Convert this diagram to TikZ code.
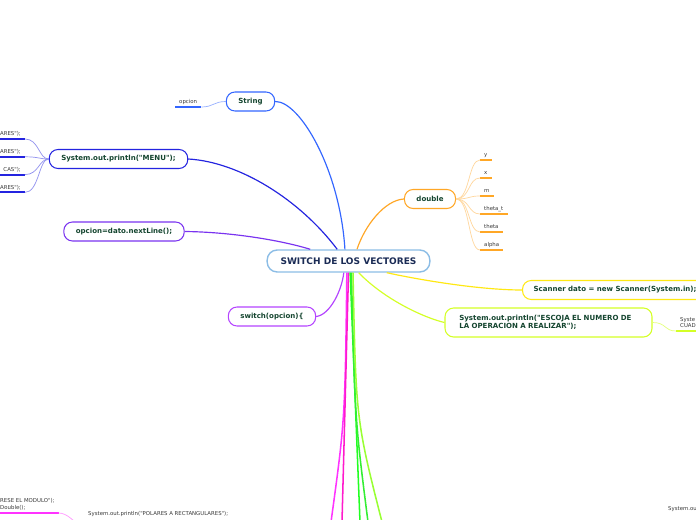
\documentclass[tikz,border=0pt]{standalone}
\usepackage{fontspec}
\setmainfont{DejaVu Sans}[Ligatures=TeXOff]
\definecolor{ctrline}{HTML}{8CBDE6}
\definecolor{ctrtxt}{HTML}{1A2B55}
\definecolor{nodetxt}{HTML}{14452F}
\definecolor{leaftxt}{HTML}{3A3A3A}
\definecolor{strblue}{HTML}{3366FF}
\definecolor{menublue}{HTML}{2424E0}
\definecolor{nlpurple}{HTML}{7A33F0}
\definecolor{swviolet}{HTML}{B444FF}
\definecolor{dblorange}{HTML}{FFA726}
\definecolor{scanyellow}{HTML}{FFE812}
\definecolor{esclime}{HTML}{D4FF26}
\definecolor{botmagenta}{HTML}{FF33FF}
\definecolor{botpink}{HTML}{FF1ACC}
\definecolor{botgreen}{HTML}{22FF22}
\definecolor{botgreenb}{HTML}{33EE33}
\definecolor{botlime}{HTML}{99FF33}

\begin{document}
\begin{tikzpicture}[x=0.3mm,y=-0.3mm,
  topic/.style={draw,fill=white,rounded corners=2.6mm,line width=0.9pt,
    minimum height=5.7mm,inner xsep=3.6mm,inner ysep=0pt,text=nodetxt,
    font=\fontsize{6}{7.3}\selectfont\bfseries},
  central/.style={topic,draw=ctrline,line width=1.2pt,rounded corners=3mm,
    minimum height=6.6mm,inner xsep=4mm,text=ctrtxt,
    font=\fontsize{7.7}{9}\selectfont\bfseries},
  leaf/.style={inner xsep=1.2mm,inner ysep=0.5mm,text height=1.2mm,
    text depth=0.4mm,text=leaftxt,font=\fontsize{4.6}{5.6}\selectfont},
  branch/.style={line width=1pt},
  twig/.style={line width=0.6pt},
  uline/.style={line width=1.6pt}]

  \useasboundingbox (0,0) rectangle (696,520);
  \clip (0,0) rectangle (696,520);
  \fill[white] (0,0) rectangle (696,520);

  % --- main topics ---
  \node[central] (ctr) at (348.5,261) {SWITCH DE LOS VECTORES};
  \node[topic,draw=strblue] (str) at (250.5,101.5) {String};
  \node[topic,draw=menublue] (menu) at (118.5,159) {System.out.println("MENU");};
  \node[topic,draw=nlpurple] (nl) at (124,231.5) {opcion=dato.nextLine();};
  \node[topic,draw=swviolet] (sw) at (272,316.5) {switch(opcion)\{};
  \node[topic,draw=dblorange] (dbl) at (430,199) {double};
  \node[topic,draw=scanyellow,anchor=west,inner xsep=3.3mm] (scan) at (522,290)
        {Scanner dato = new Scanner(System.in);};
  \node[topic,draw=esclime,align=left,text width=53.5mm,inner xsep=4.3mm,
        minimum height=8.7mm] (esc) at (548.5,322.5)
        {System.out.println("ESCOJA EL NUMERO DE\\LA OPERACION A REALIZAR");};

  % --- branches ---
  \draw[branch,strblue] (str.east) .. controls (300,101) and (340,170) .. (ctr.107);
  \draw[branch,menublue] (menu.east) .. controls (240,162) and (300,200) .. (ctr.134);
  \draw[branch,nlpurple] (nl.east) .. controls (230,232) and (280,240) .. (ctr.163);
  \draw[branch,swviolet] (sw.east) .. controls (330,315) and (342,290) .. (ctr.-112);
  \draw[branch,dblorange] (dbl.west) .. controls (385,200) and (365,225) .. (ctr.54);
  \draw[branch,scanyellow] (ctr.-17) .. controls (420,280) and (480,290) .. (scan.west);
  \draw[branch,esclime] (ctr.-49) .. controls (385,300) and (425,318) .. (esc.west);

  % --- branches leaving the page ---
  \coordinate (down1) at (331,522);
  \coordinate (down2) at (342,522);
  \coordinate (down3) at (360,522);
  \coordinate (down4) at (368,522);
  \coordinate (down5) at (382,522);
  \draw[branch,line width=1.3pt,botmagenta] (ctr.-98) .. controls (345,420) .. (down1);
  \draw[branch,line width=1.3pt,botpink] (ctr.-90) -- (down2);
  \draw[branch,line width=1.3pt,botgreen] (ctr.-82) -- (down3);
  \draw[branch,line width=1.3pt,botgreenb] (ctr.-76) .. controls (355,420) .. (down4);
  \draw[branch,line width=1.3pt,botlime] (ctr.-69) .. controls (356,420) .. (down5);

  % --- String leaf ---
  \node[leaf,anchor=south west] (opc) at (175,107) {opcion};
  \draw[uline,strblue] (opc.south west) -- (opc.south east);
  \draw[twig,strblue!50] (opc.south east) .. controls +(12,0) and +(-12,0) .. (str.west);

  % --- MENU leaves ---
  \foreach \t [count=\i] in {{ARES");},{ARES");},{CAS");},{ARES");}}{
    \node[leaf,anchor=south east,text width=9mm,align=right] (menu\i)
          at (25,{139+17.8*(\i-1)}) {\t};
    \draw[uline,menublue] (menu\i.south west) -- (menu\i.south east);
    \draw[twig,menublue!50] (menu\i.south east) .. controls +(14,0) and +(-10,0) .. (menu.west);
  }

  % --- double leaves ---
  \foreach \t/\n [count=\i] in {y/dblY,x/dblX,m/dblM,theta\_t/dblTT,theta/dblTH,alpha/dblAL}{
    \node[leaf,anchor=south west] (\n) at (480,{160+18*(\i-1)}) {\t};
    \draw[uline,dblorange] (\n.south west) -- (\n.south east);
    \draw[twig,dblorange!45] (dbl.east) .. controls +(14,0) and +(-12,0) .. (\n.south west);
  }

  % --- ESCOJA leaf ---
  \node[leaf,anchor=south west,align=left] (escleaf) at (676,331) {Syste\\CUAD};
  \draw[uline,esclime] (escleaf.south west) -- (escleaf.south east);
  \draw[twig,esclime!60] (esc.east) .. controls +(14,0) and +(-12,0) .. (escleaf.south west);

  % --- bottom fragments ---
  \node[leaf,anchor=south west,align=left,font=\fontsize{4.6}{6}\selectfont] (modu)
        at (-4,513) {RESE EL MODULO");\\Double();};
  \draw[uline,botmagenta] (modu.south west) -- (modu.south east);
  \coordinate (modend) at (80,527);
  \draw[twig,botmagenta!50] (modu.south east) .. controls +(8,0) and +(-6,-6) .. (modend);
  \node[leaf,anchor=west] (polar) at (84,514) {System.out.println("POLARES A RECTANGULARES");};
  \node[leaf,anchor=west] (sysou) at (664,509) {System.ou};

\end{tikzpicture}
\end{document}
